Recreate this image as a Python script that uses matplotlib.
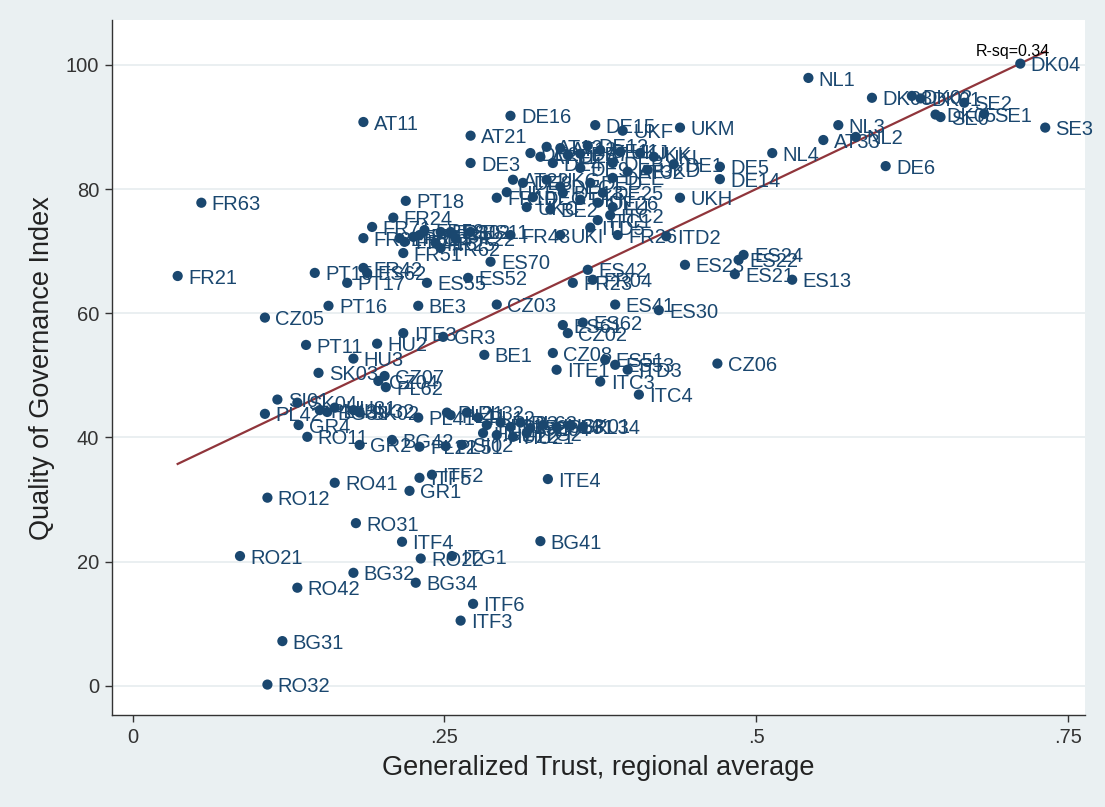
import numpy as np
import matplotlib
matplotlib.use("Agg")
import matplotlib.pyplot as plt

plt.rcParams['font.family'] = ['Liberation Sans', 'DejaVu Sans']

# =============================================================================
# DATA
# =============================================================================
# top right: Scandinavia / Netherlands
nordic_labels = ["DK04", "NL1", "DK03", "DK02", "DK01", "SE2", "DK05", "SE0", "SE1",
                 "SE3", "NL3", "AT33", "NL2", "NL4", "DE6"]
nordic_trust = [0.712, 0.542, 0.593, 0.625, 0.632, 0.667, 0.644, 0.648, 0.683,
                0.732, 0.566, 0.554, 0.580, 0.513, 0.604]
nordic_qog = [100.2, 97.9, 94.7, 95.0, 94.6, 93.9, 92.0, 91.6, 92.1,
              89.9, 90.3, 87.9, 88.4, 85.8, 83.7]

# upper cluster: Germany, Austria, UK
core_labels = ["UKM", "UKH", "DE5", "DE14", "DE1", "AT11", "DE16", "AT21", "DE3", "DE15",
               "UKF", "AT12", "AT13", "DE12", "DE2", "AT31", "DEA", "DE7", "DE11", "UKJ",
               "UKK", "UKL", "DE4", "DE9", "DEB", "AT32", "UKD", "AT22", "DE8", "UKG",
               "DEC", "DED", "DEE", "FR10", "UKE", "DEG", "DE13", "UKN", "DE25", "UKC",
               "BE2", "DE26", "LU", "ITC1", "ITD5", "ITC2"]
core_trust = [0.439, 0.439, 0.471, 0.471, 0.434, 0.185, 0.303, 0.271, 0.271, 0.371,
              0.393, 0.332, 0.343, 0.365, 0.319, 0.327, 0.349, 0.359, 0.375, 0.391,
              0.407, 0.418, 0.337, 0.359, 0.385, 0.397, 0.413, 0.305, 0.313, 0.332,
              0.343, 0.367, 0.385, 0.292, 0.300, 0.321, 0.345, 0.359, 0.377, 0.316,
              0.335, 0.373, 0.385, 0.373, 0.367, 0.383]
core_qog = [89.9, 78.6, 83.6, 81.6, 84.0, 90.8, 91.8, 88.6, 84.2, 90.3,
            89.4, 86.8, 86.6, 87.0, 85.8, 85.2, 85.5, 85.7, 86.3, 86.0,
            85.8, 85.2, 84.2, 83.4, 84.2, 82.8, 83.1, 81.5, 81.0, 81.5,
            80.4, 81.0, 81.8, 78.6, 79.5, 78.7, 79.4, 78.3, 79.4, 77.1,
            76.7, 77.8, 77.1, 75.0, 73.8, 75.8]

# France, Spain, Portugal
west_labels = ["FR43", "UKI", "FR26", "ITD2", "ES12", "ES70", "ES52", "ES55", "FR62",
               "FR51", "FR24", "FR71", "FR81", "FR82", "FR41", "FR61", "FR30", "FR52",
               "FR22", "FR25", "FR53", "ES11", "PT15", "FR42", "ES62", "PT17", "PT18",
               "FR63", "FR21", "ES24", "ES22", "ES21", "ES13", "ES23", "ES42", "FR23",
               "FR04", "ES41", "ES30"]
west_trust = [0.303, 0.343, 0.389, 0.428, 0.255, 0.287, 0.269, 0.236, 0.247,
              0.217, 0.209, 0.192, 0.185, 0.214, 0.218, 0.225, 0.247, 0.234,
              0.259, 0.243, 0.230, 0.271, 0.146, 0.185, 0.188, 0.172, 0.219,
              0.055, 0.036, 0.490, 0.486, 0.483, 0.529, 0.443, 0.365, 0.353,
              0.369, 0.387, 0.422]
west_qog = [72.6, 72.6, 72.6, 72.4, 73.1, 68.3, 65.7, 64.9, 70.5,
            69.7, 75.4, 73.9, 72.1, 72.1, 71.5, 72.3, 73.1, 73.4,
            72.1, 71.3, 72.6, 73.1, 66.5, 67.3, 66.5, 64.9, 78.1,
            77.8, 66.0, 69.4, 68.6, 66.3, 65.4, 67.8, 67.0, 64.9,
            65.4, 61.4, 60.5]

# middle band: Czech Rep., Belgium, Greece, Italy, Hungary
mid_labels = ["CZ03", "BE3", "PT16", "CZ05", "ITE3", "GR3", "PT11", "HU2", "HU3", "BE1",
              "SK03", "CZ07", "CZ04", "PL62", "ES61", "ES62", "CZ02", "CZ08", "ITE1",
              "ES51", "ITD3", "ITC3", "ITC4", "CZ06", "ES53"]
mid_trust = [0.292, 0.229, 0.157, 0.106, 0.217, 0.249, 0.139, 0.196, 0.177, 0.282,
             0.149, 0.202, 0.197, 0.203, 0.345, 0.361, 0.349, 0.337, 0.340,
             0.379, 0.397, 0.375, 0.406, 0.469, 0.387]
mid_qog = [61.4, 61.2, 61.2, 59.3, 56.8, 56.2, 54.9, 55.1, 52.7, 53.3,
           50.4, 49.9, 49.1, 48.1, 58.1, 58.5, 56.8, 53.6, 50.9,
           52.5, 50.9, 49.0, 46.9, 51.9, 51.7]

# lower cluster: Poland, Slovakia, Hungary, Slovenia
east_labels = ["SI01", "SK04", "PL42", "GR4", "RO11", "BG33", "PL43", "HU31", "HU32",
               "SK02", "GR2", "BG42", "PL41", "PL21", "PL22", "PL51", "PL11", "PL32",
               "PL12", "PL31", "PL33", "PL52", "PL63", "CZ04", "HU33", "PL61", "SK01",
               "PL34", "HU1", "HU22", "HU21", "ITG2", "SI02"]
east_trust = [0.116, 0.132, 0.106, 0.133, 0.140, 0.156, 0.150, 0.162, 0.177,
              0.182, 0.182, 0.208, 0.229, 0.252, 0.230, 0.251, 0.255, 0.268,
              0.277, 0.284, 0.295, 0.303, 0.311, 0.319, 0.329, 0.340, 0.351,
              0.361, 0.281, 0.292, 0.305, 0.316, 0.264]
east_qog = [46.1, 45.6, 43.8, 42.0, 40.1, 44.1, 44.4, 44.8, 44.4,
            44.0, 38.8, 39.6, 43.2, 44.0, 38.5, 38.6, 43.6, 44.0,
            43.2, 42.0, 42.4, 41.7, 42.4, 41.5, 42.0, 41.7, 42.0,
            41.7, 40.7, 40.4, 40.1, 40.7, 38.8]

# bottom: Romania, Bulgaria, southern Italy
south_labels = ["ITF5", "ITF2", "GR1", "RO41", "ITE4", "ITF4", "RO12", "RO31", "RO22",
                "ITG1", "BG41", "RO21", "BG32", "BG34", "RO42", "ITF6", "ITF3", "BG31",
                "RO32"]
south_trust = [0.230, 0.240, 0.222, 0.162, 0.333, 0.216, 0.108, 0.179, 0.231,
               0.256, 0.327, 0.086, 0.177, 0.227, 0.132, 0.273, 0.263, 0.120,
               0.108]
south_qog = [33.5, 34.0, 31.4, 32.7, 33.3, 23.2, 30.3, 26.2, 20.5,
             20.9, 23.3, 20.9, 18.2, 16.6, 15.8, 13.2, 10.5, 7.2,
             0.2]

# linear fit as drawn in the reference
FIT_INTERCEPT = 32.3
FIT_SLOPE = 95.4
R_SQ = 0.34

x_ticks = [0, 0.25, 0.5, 0.75]
x_ticklabels = ["0", ".25", ".5", ".75"]
y_ticks = [0, 20, 40, 60, 80, 100]

# =============================================================================
# PLOT
# =============================================================================
labels = nordic_labels + core_labels + west_labels + mid_labels + east_labels + south_labels
trust = np.array(nordic_trust + core_trust + west_trust + mid_trust + east_trust + south_trust)
qog = np.array(nordic_qog + core_qog + west_qog + mid_qog + east_qog + south_qog)

NAVY = "#1a476f"
MAROON = "#90353b"
BG = "#eaf0f2"

fig = plt.figure(figsize=(11.05, 8.07), dpi=100, facecolor=BG)
ax = fig.add_axes([0.101, 0.114, 0.881, 0.861])
ax.set_facecolor("white")

for y in y_ticks:
    ax.axhline(y, color="#e6ecef", linewidth=1.2, zorder=0)

ax.scatter(trust, qog, s=54, color=NAVY, edgecolors="none", zorder=3)
for lab, x, y in zip(labels, trust, qog):
    ax.annotate(lab, (x, y), xytext=(7.5, -1.5), textcoords="offset points",
                ha="left", va="center", fontsize=14.5, color=NAVY, zorder=4)

xs = np.array([trust.min(), trust.max()])
ax.plot(xs, FIT_INTERCEPT + FIT_SLOPE * xs, color=MAROON, linewidth=1.6, zorder=2)

# R-squared note sits inside the plot region, top right
ax.text(0.964, 0.955, f"R-sq={R_SQ:.2f}", transform=ax.transAxes, ha="right",
        va="center", fontsize=11.5, color="black", zorder=5)

ax.set_xlim(-0.017, 0.764)
ax.set_ylim(-4.7, 107.2)
ax.set_xticks(x_ticks)
ax.set_xticklabels(x_ticklabels)
ax.set_yticks(y_ticks)
ax.tick_params(labelsize=14.5, colors="#333333", length=5, width=1, pad=4)
ax.set_xlabel("Generalized Trust, regional average", fontsize=19.5, color="#222222", labelpad=6)
ax.set_ylabel("Quality of Governance Index", fontsize=19.5, color="#222222", labelpad=8)

for spine in ["top", "right"]:
    ax.spines[spine].set_visible(False)
for spine in ["left", "bottom"]:
    ax.spines[spine].set_color("#333333")
    ax.spines[spine].set_linewidth(1)

fig.savefig("out.png", dpi=100, facecolor=BG)
